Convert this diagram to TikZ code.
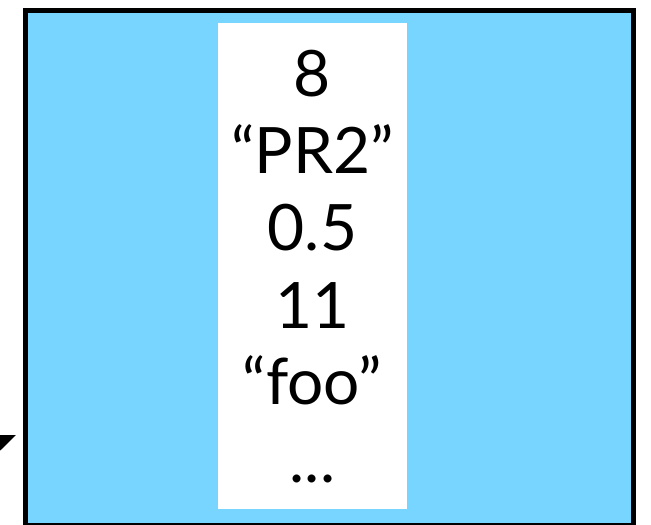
\documentclass[tikz,border=0pt]{standalone}
\usepackage{fontspec}
\setmainfont{Lato}
\usetikzlibrary{arrows.meta}
\definecolor{skyfill}{RGB}{120,213,255}
\tikzset{
  cell/.style={anchor=base, inner sep=0pt, font=\fontsize{64}{70}\selectfont, text=black},
  frame/.style={draw=black, line width=5pt, fill=skyfill},
  column/.style={fill=white, draw=none},
  pointer/.style={draw=black, line width=2pt, -{Triangle[length=30pt,width=24pt]}}
}
\begin{document}
\begin{tikzpicture}[x=1pt,y=-1pt]
\useasboundingbox (0,0) rectangle (651,525);
\clip (0,0) rectangle (651,525);
\draw[frame] (25.5,10.5) rectangle (633,525.5);
\fill[column] (218,23) rectangle (407,509);
\node[cell] (v1) at (312.5,96) {8};
\node[cell] (v2) at (312.5,173) {“PR2”};
\node[cell] (v3) at (312.5,250) {0.5};
\node[cell] (v4) at (312.5,328) {11};
\node[cell] (v5) at (312.5,404) {“foo”};
\node[cell] (v6) at (312.5,482) {...};
\coordinate (ptail) at (-45,460);
\coordinate (ptip) at (16,435);
\draw[pointer] (ptail) -- (ptip);
\end{tikzpicture}
\end{document}
